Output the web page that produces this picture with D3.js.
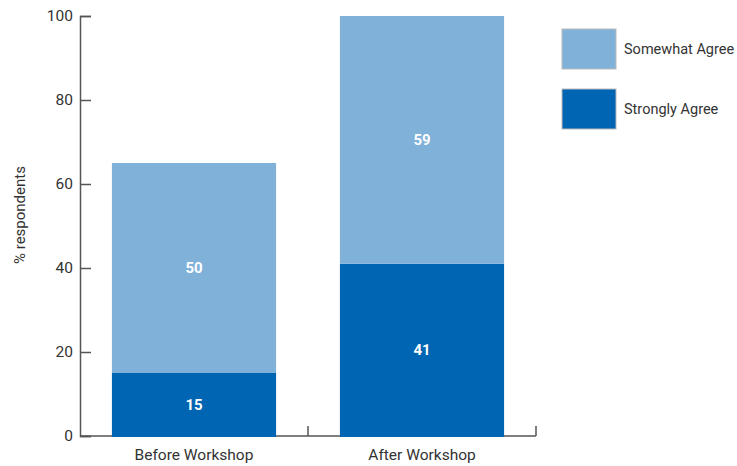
<!DOCTYPE html>
<html>
<head>
<meta charset="utf-8">
<script src="https://cdn.jsdelivr.net/npm/d3@7"></script>
<style>
  body { margin: 0; background: #fff; }
  text { font-family: Roboto, "Noto Sans", sans-serif; }
</style>
</head>
<body>
<svg id="chart" width="737" height="466"></svg>
<script>
// Survey results, percent of respondents
const categories = ["Before Workshop", "After Workshop"];
const seriesNames = ["Strongly Agree", "Somewhat Agree"];
const stronglyAgree = [15, 41];
const somewhatAgree = [50, 59];
const yTicks = [0, 20, 40, 60, 80, 100];
const colors = { "Strongly Agree": "#0065b2", "Somewhat Agree": "#80b1d9" };

const svg = d3.select("#chart");
const margin = { left: 80, top: 16, right: 201, bottom: 30 };
const width = 737 - margin.left - margin.right;   // 456
const height = 466 - margin.top - margin.bottom;  // 420

const g = svg.append("g").attr("transform", `translate(${margin.left},${margin.top})`);

const x = d3.scaleBand().domain(categories).range([0, width]).paddingInner(0.28).paddingOuter(0.14);
const y = d3.scaleLinear().domain([0, 100]).range([height, 0]);

const rows = categories.map((c, i) => ({
  category: c,
  "Strongly Agree": stronglyAgree[i],
  "Somewhat Agree": somewhatAgree[i]
}));
const stacked = d3.stack().keys(seriesNames)(rows);

const axisColor = "#555";
const textColor = "#333";

// Y axis: ticks pointing into the plot
const yAxis = g.append("g")
  .call(d3.axisLeft(y).tickValues(yTicks).tickSize(-11).tickPadding(7));
yAxis.select(".domain").attr("stroke", axisColor).attr("stroke-width", 1.5);
yAxis.selectAll(".tick line").attr("stroke", axisColor).attr("stroke-width", 1.5);
yAxis.selectAll(".tick text").attr("fill", textColor).attr("font-size", 15.5);

// X axis: boundary ticks between categories
const xAxisG = g.append("g").attr("transform", `translate(0,${height})`);
xAxisG.append("line").attr("x1", 0).attr("x2", width)
  .attr("stroke", axisColor).attr("stroke-width", 1.5);
const step = x.step();
const boundaries = categories.map((c, i) => x(c) + x.bandwidth() + step * x.paddingInner() / 2);
xAxisG.selectAll("line.tick").data(boundaries).enter().append("line")
  .attr("class", "tick")
  .attr("x1", d => d).attr("x2", d => d)
  .attr("y1", 0).attr("y2", -10)
  .attr("stroke", axisColor).attr("stroke-width", 1.5);
xAxisG.selectAll("text").data(categories).enter().append("text")
  .attr("x", d => x(d) + x.bandwidth() / 2)
  .attr("y", 24)
  .attr("text-anchor", "middle")
  .attr("fill", textColor)
  .attr("font-size", 15.5)
  .text(d => d);

// Stacked bars
const layers = g.selectAll("g.layer").data(stacked).enter().append("g")
  .attr("class", "layer")
  .attr("fill", d => colors[d.key]);
layers.selectAll("rect").data(d => d).enter().append("rect")
  .attr("x", d => x(d.data.category))
  .attr("y", d => y(d[1]))
  .attr("width", x.bandwidth())
  .attr("height", d => y(d[0]) - y(d[1]) + (d[0] === 0 ? 1 : 0));

// Value labels
layers.selectAll("text").data(d => d.map(v => ({ v, key: d.key }))).enter().append("text")
  .attr("x", d => x(d.v.data.category) + x.bandwidth() / 2)
  .attr("y", d => (y(d.v[0]) + y(d.v[1])) / 2)
  .attr("dy", "0.35em")
  .attr("text-anchor", "middle")
  .attr("fill", "#fff")
  .attr("font-weight", "bold")
  .attr("font-size", 15)
  .text(d => d.v.data[d.key]);

// Y axis title
svg.append("text")
  .attr("transform", "translate(25,215) rotate(-90)")
  .attr("text-anchor", "middle")
  .attr("fill", textColor)
  .attr("font-size", 15)
  .text("% respondents");

// Legend
const legendOrder = ["Somewhat Agree", "Strongly Agree"];
const legend = svg.append("g").attr("transform", "translate(562,29)");
const item = legend.selectAll("g").data(legendOrder).enter().append("g")
  .attr("transform", (d, i) => `translate(0,${i * 60})`);
item.append("rect")
  .attr("width", 54).attr("height", 40)
  .attr("fill", d => colors[d])
  .attr("stroke", "#bbb").attr("stroke-width", 1);
item.append("text")
  .attr("x", 62).attr("y", 20).attr("dy", "0.35em")
  .attr("fill", textColor)
  .attr("font-size", 14.5)
  .text(d => d);
</script>
</body>
</html>
